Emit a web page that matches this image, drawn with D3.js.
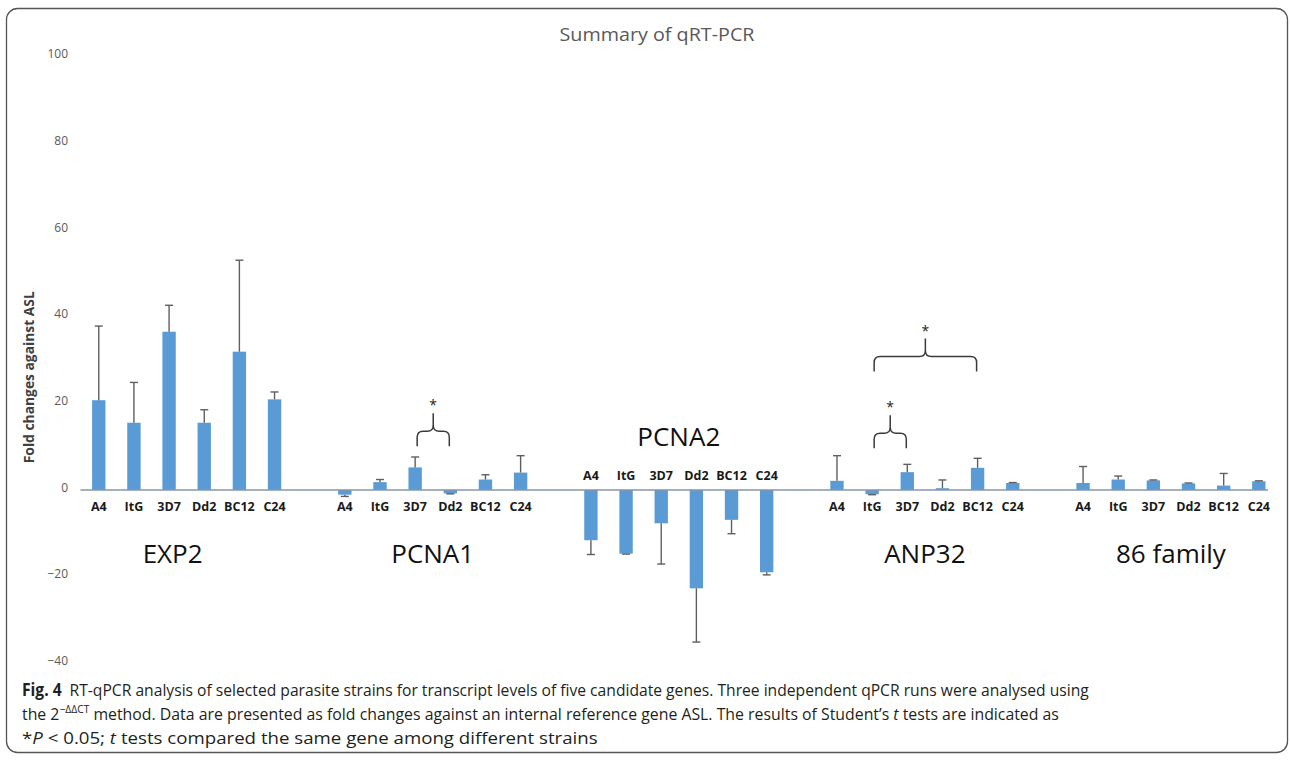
<!DOCTYPE html>
<html>
<head>
<meta charset="utf-8">
<script src="https://cdn.jsdelivr.net/npm/d3@7"></script>
<style>
  body { margin: 0; background: #fff; }
  svg { display: block; font-family: "Open Sans", sans-serif; }
</style>
</head>
<body>
<svg id="chart" width="1290" height="761"></svg>
<script>
// Data (fold change against ASL, one-sided error bars)
const genes = ["EXP2", "PCNA1", "PCNA2", "ANP32", "86 family"];
const strains = ["A4", "ItG", "3D7", "Dd2", "BC12", "C24"];

const exp2Values  = [20.7, 15.5, 36.5, 15.5, 31.9, 20.9];
const exp2Err     = [17.1, 9.3, 6.1, 3.0, 21.1, 1.7];
const pcna1Values = [-1.1, 1.8, 5.2, -0.8, 2.4, 4.0];
const pcna1Err    = [0.4, 0.6, 2.4, 0.1, 1.1, 3.9];
const pcna2Values = [-11.6, -14.7, -7.7, -22.7, -6.9, -19.0];
const pcna2Err    = [3.3, 0.1, 9.4, 12.4, 3.2, 0.6];
const anp32Values = [2.1, -1.0, 4.1, 0.4, 5.1, 1.6];
const anp32Err    = [5.8, 0.1, 1.8, 1.9, 2.2, 0.1];
const fam86Values = [1.6, 2.4, 2.2, 1.5, 1.0, 2.0];
const fam86Err    = [3.8, 0.8, 0.1, 0.1, 2.8, 0.1];

const yTicks = [-40, -20, 0, 20, 40, 60, 80, 100];

// significance brackets: gene, first strain, last strain, level of the brace feet
const comparisons = [
  { gene: "PCNA1", from: "3D7", to: "Dd2", level: 10.1 },
  { gene: "ANP32", from: "ItG", to: "3D7", level: 9.6 },
  { gene: "ANP32", from: "ItG", to: "BC12", level: 27.3 }
];

const valuesByGene = [exp2Values, pcna1Values, pcna2Values, anp32Values, fam86Values];
const errByGene = [exp2Err, pcna1Err, pcna2Err, anp32Err, fam86Err];

// build category slots with one empty slot between genes
const slots = [];
const bars = [];
genes.forEach((g, gi) => {
  strains.forEach((s, si) => {
    slots.push(g + "|" + s);
    bars.push({ gene: g, strain: s, value: valuesByGene[gi][si], err: errByGene[gi][si] });
  });
  if (gi < genes.length - 1) slots.push("gap" + gi);
});

const svg = d3.select("#chart");

// frame
svg.append("rect")
  .attr("x", 6.5).attr("y", 8.5)
  .attr("width", 1281).attr("height", 744)
  .attr("rx", 11)
  .attr("fill", "none")
  .attr("stroke", "#555")
  .attr("stroke-width", 1.3);

const xScale = d3.scaleBand()
  .domain(slots)
  .range([81.2, 1276.4])
  .paddingInner(0.62)
  .paddingOuter(0.31);

const yScale = d3.scaleLinear()
  .domain([-40, 100])
  .range([663.3, 56.5]);

// title
svg.append("text")
  .attr("x", 657).attr("y", 41)
  .attr("text-anchor", "middle")
  .attr("fill", "#595959")
  .style("font-size", "18px")
  .attr("textLength", 195)
  .attr("lengthAdjust", "spacingAndGlyphs")
  .text("Summary of qRT-PCR");

// y axis (labels only)
const yAxis = svg.append("g")
  .attr("transform", "translate(70,0)")
  .call(d3.axisLeft(yScale).tickValues(yTicks).tickSize(0).tickPadding(2));
yAxis.select(".domain").remove();
yAxis.selectAll("text")
  .attr("fill", "#595959")
  .attr("dy", "0.1em")
  .style("font-family", "Open Sans, sans-serif")
  .style("font-size", "12px");

svg.append("text")
  .attr("transform", `translate(34,${yScale(26)})rotate(-90)`)
  .attr("text-anchor", "middle")
  .attr("fill", "#404040")
  .style("font-size", "15px")
  .style("font-weight", "bold")
  .attr("textLength", 172)
  .attr("lengthAdjust", "spacingAndGlyphs")
  .text("Fold changes against ASL");

const cx = d => xScale(d.gene + "|" + d.strain) + xScale.bandwidth() / 2;

// bars
svg.selectAll(".bar")
  .data(bars)
  .enter()
  .append("rect")
  .attr("class", "bar")
  .attr("x", d => xScale(d.gene + "|" + d.strain))
  .attr("y", d => yScale(Math.max(0, d.value)))
  .attr("width", xScale.bandwidth())
  .attr("height", d => Math.abs(yScale(d.value) - yScale(0)))
  .attr("fill", "#5b9bd5");

// error bars, drawn outward from the bar end
const errG = svg.append("g").attr("stroke", "#5f5f5f").attr("stroke-width", 1.4);
bars.forEach(d => {
  const end = d.value >= 0 ? d.value + d.err : d.value - d.err;
  errG.append("line")
    .attr("x1", cx(d)).attr("x2", cx(d))
    .attr("y1", yScale(d.value)).attr("y2", yScale(end));
  errG.append("line")
    .attr("x1", cx(d) - 4).attr("x2", cx(d) + 4)
    .attr("y1", yScale(end)).attr("y2", yScale(end));
});

// zero line
svg.append("line")
  .attr("x1", 80.5).attr("x2", 1268)
  .attr("y1", yScale(0)).attr("y2", yScale(0))
  .attr("stroke", "#8796aa")
  .attr("stroke-width", 1.5);

// strain labels
svg.selectAll(".strain")
  .data(bars)
  .enter()
  .append("text")
  .attr("class", "strain")
  .attr("x", cx)
  .attr("y", d => d.gene === "PCNA2" ? yScale(0) - 10 : yScale(0) + 21)
  .attr("text-anchor", "middle")
  .attr("fill", "#1a1a1a")
  .style("font-size", "12.5px")
  .style("font-weight", "bold")
  .text(d => d.strain);

// gene labels
const labelShift = { "EXP2": -14 };
svg.selectAll(".gene")
  .data(genes)
  .enter()
  .append("text")
  .attr("class", "gene")
  .attr("x", g => (xScale(g + "|A4") + xScale(g + "|C24") + xScale.bandwidth()) / 2 + (labelShift[g] || 0))
  .attr("y", g => g === "PCNA2" ? yScale(0) - 44 : yScale(0) + 73)
  .attr("text-anchor", "middle")
  .attr("fill", "#111")
  .style("font-size", "26px")
  .text(g => g);

// significance braces
const braceG = svg.append("g");
comparisons.forEach(c => {
  const x1 = cx({ gene: c.gene, strain: c.from }) + 2;
  const x2 = cx({ gene: c.gene, strain: c.to }) - 1;
  const xm = (x1 + x2) / 2;
  const yb = yScale(c.level);
  const yh = yb - 15;
  const yt = yh - 18;
  const r = 6;
  const p = `M${x1},${yb} L${x1},${yh + r} Q${x1},${yh} ${x1 + r},${yh} L${xm - r},${yh} Q${xm},${yh} ${xm},${yh - r} L${xm},${yt}` +
            ` M${xm},${yh - r} Q${xm},${yh} ${xm + r},${yh} L${x2 - r},${yh} Q${x2},${yh} ${x2},${yh + r} L${x2},${yb}`;
  braceG.append("path")
    .attr("d", p)
    .attr("fill", "none")
    .attr("stroke", "#3a3a3a")
    .attr("stroke-width", 1.5);
  braceG.append("text")
    .attr("x", xm).attr("y", yt - 3)
    .attr("text-anchor", "middle")
    .attr("fill", "#222")
    .style("font-size", "14px")
    .text("*");
});

// caption: each line squeezed horizontally to the width it has in the figure
function captionLine(y, targetWidth, parts) {
  const g = svg.append("g").attr("fill", "#231f20");
  const t = g.append("text").attr("x", 0).attr("y", 0).style("font-size", "17px");
  parts.forEach(p => {
    const ts = t.append("tspan").text(p.text);
    if (p.bold) ts.style("font-weight", "bold");
    if (p.italic) ts.style("font-style", "italic");
    if (p.sup) ts.attr("dy", -7).style("font-size", "11px");
    if (p.down) ts.attr("dy", 7);
  });
  const w = t.node().getComputedTextLength();
  g.attr("transform", `translate(22,${y}) scale(${targetWidth / w},1)`);
}

captionLine(696, 1068, [
  { text: "Fig. 4", bold: true },
  { text: "\u2002RT-qPCR analysis of selected parasite strains for transcript levels of five candidate genes. Three independent qPCR runs were analysed using" }
]);
captionLine(720, 1038, [
  { text: "the 2" },
  { text: "\u2212\u0394\u0394CT", sup: true },
  { text: " method. Data are presented as fold changes against an internal reference gene ASL. The results of Student\u2019s ", down: true },
  { text: "t", italic: true },
  { text: " tests are indicated as" }
]);
captionLine(744, 576, [
  { text: "*" },
  { text: "P", italic: true },
  { text: " < 0.05; " },
  { text: "t", italic: true },
  { text: " tests compared the same gene among different strains" }
]);
</script>
</body>
</html>
